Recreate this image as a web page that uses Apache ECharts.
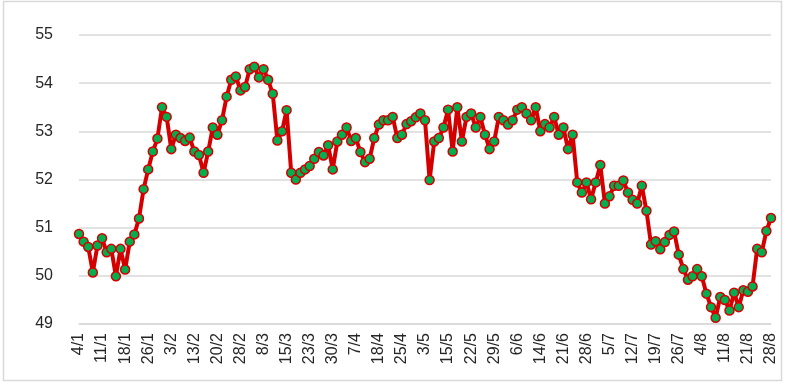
<!DOCTYPE html>
<html>
<head>
<meta charset="utf-8">
<script src="https://cdn.jsdelivr.net/npm/echarts@6/dist/echarts.min.js"></script>
<style>
html,body{margin:0;padding:0;background:#fff;}
#c{width:786px;height:383px;}
</style>
</head>
<body>
<div id="c"></div>
<script>
// Tick labels shown every 5th trading day
const tickLabels = ["4/1","11/1","18/1","26/1","3/2","13/2","20/2","28/2","8/3","15/3","23/3","30/3","7/4","18/4","25/4","3/5","15/5","22/5","29/5","6/6","14/6","21/6","28/6","5/7","12/7","19/7","26/7","4/8","11/8","21/8","28/8"];

const values = [
50.87,50.71,50.60,50.07,50.63,50.78,50.49,50.56,49.99,50.56,
50.13,50.71,50.86,51.19,51.80,52.21,52.58,52.85,53.50,53.30,
52.63,52.93,52.86,52.80,52.87,52.58,52.51,52.14,52.58,53.08,
52.93,53.23,53.72,54.07,54.14,53.85,53.92,54.29,54.34,54.12,
54.29,54.07,53.78,52.81,53.00,53.44,52.14,52.00,52.14,52.21,
52.28,52.43,52.57,52.50,52.71,52.21,52.79,52.93,53.08,52.80,
52.86,52.57,52.36,52.43,52.86,53.14,53.23,53.23,53.30,52.86,
52.93,53.15,53.21,53.29,53.37,53.23,51.99,52.79,52.86,53.08,
53.45,52.58,53.50,52.79,53.30,53.37,53.08,53.30,52.93,52.63,
52.79,53.30,53.23,53.14,53.23,53.45,53.50,53.37,53.23,53.50,
53.00,53.15,53.08,53.30,52.93,53.08,52.63,52.93,51.94,51.73,
51.94,51.59,51.94,52.30,51.50,51.65,51.87,51.87,51.98,51.73,
51.58,51.50,51.87,51.35,50.65,50.72,50.55,50.70,50.85,50.92,
50.44,50.14,49.92,49.99,50.14,49.99,49.63,49.35,49.13,49.56,
49.50,49.28,49.65,49.35,49.70,49.67,49.78,50.56,50.49,50.93,
51.20
];

const categories = values.map((v, i) => (i % 5 === 0 ? tickLabels[i / 5] : 'd' + i));

const chart = echarts.init(document.getElementById('c'), null, {renderer: 'canvas'});
chart.setOption({
  animation: false,
  backgroundColor: '#ffffff',
  graphic: [{
    type: 'rect',
    shape: {x: 3.5, y: 1.5, width: 778, height: 379},
    style: {fill: 'none', stroke: '#d9d9d9', lineWidth: 1.5},
    silent: true, z: -1
  }],
  grid: {left: 79, right: 15, top: 35, bottom: 59, containLabel: false},
  xAxis: {
    type: 'category',
    data: categories,
    boundaryGap: false,
    axisLine: {show: true, lineStyle: {color: '#d9d9d9', width: 1.5}},
    axisTick: {show: false},
    axisLabel: {
      interval: 4,
      rotate: 90,
      margin: 9,
      fontSize: 16,
      fontFamily: 'Liberation Sans, Arial, sans-serif',
      color: '#262626',
      formatter: function (v, i) { return i % 5 === 0 ? tickLabels[i / 5] : ''; }
    },
    splitLine: {show: false}
  },
  yAxis: {
    type: 'value',
    min: 49, max: 55, interval: 1,
    axisLine: {show: false},
    axisTick: {show: false},
    axisLabel: {
      margin: 26,
      fontSize: 16,
      fontFamily: 'Liberation Sans, Arial, sans-serif',
      color: '#262626'
    },
    splitLine: {lineStyle: {color: '#d9d9d9', width: 1.5}}
  },
  series: [{
    type: 'line',
    data: values,
    symbol: 'circle',
    symbolSize: 9,
    showAllSymbol: true,
    lineStyle: {color: '#d40000', width: 4},
    itemStyle: {color: '#00b050', borderColor: '#d40000', borderWidth: 1.5}
  }]
});
</script>
</body>
</html>
